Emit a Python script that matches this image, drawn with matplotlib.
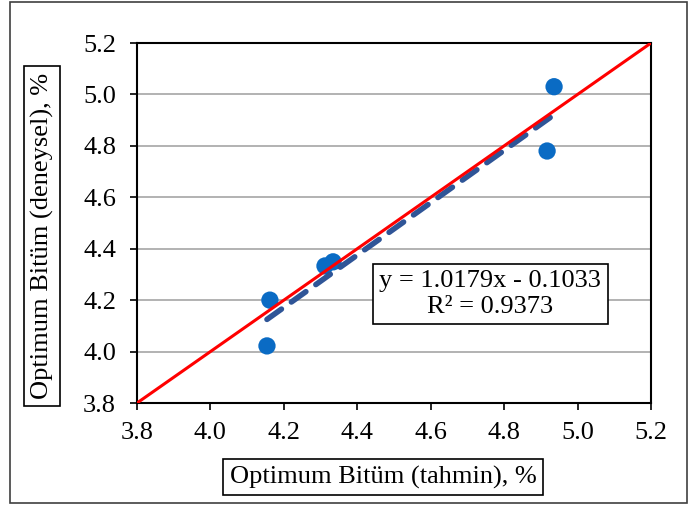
import matplotlib.pyplot as plt
import numpy as np
from matplotlib.patches import Rectangle

# okunan degerler
tahmin = [4.154, 4.162, 4.312, 4.334, 4.917, 4.936]
deneysel = [4.022, 4.200, 4.333, 4.349, 4.780, 5.030]
egim, kesim = 1.0179, -0.1033
ticks = [3.8, 4.0, 4.2, 4.4, 4.6, 4.8, 5.0, 5.2]

plt.rcParams['font.family'] = ['Liberation Serif', 'DejaVu Serif']
FS = 19

fig = plt.figure(figsize=(6.89, 5.07), dpi=100)
ax = fig.add_axes([137/689, 1-403/507, (651-137)/689, (403-43)/507])

# dis cerceve
fig.patches.append(Rectangle((10/689, 4/507), 677/689, 501/507, transform=fig.transFigure,
                             fill=False, edgecolor='#404040', lw=1.2))

for t in ticks[1:-1]:
    ax.axhline(t, color='#a6a6a6', lw=1.2, zorder=0)

ax.scatter(tahmin, deneysel, s=155, color='#0a6bc4', zorder=3, edgecolors='none')
xs = np.array([min(tahmin), max(tahmin)])
ax.plot(xs, egim*xs + kesim, ls=(0, (3.2, 2.2)), color='#2f5597', lw=4, zorder=4,
        solid_capstyle='round', dash_capstyle='round')
ax.plot([3.8, 5.2], [3.8, 5.2], color='#ff0000', lw=2.2, zorder=5)

ax.set_xlim(3.8, 5.2)
ax.set_ylim(3.8, 5.2)
ax.set_xticks(ticks)
ax.set_yticks(ticks)
ax.set_xticklabels([f'{t:.1f}' for t in ticks])
ax.set_yticklabels([f'{t:.1f}' for t in ticks])
ax.tick_params(direction='out', length=5, width=1.2, labelsize=FS)
ax.tick_params(axis='x', pad=9)
ax.tick_params(axis='y', pad=10)
for s in ax.spines.values():
    s.set_linewidth(1.5)

kutu = dict(boxstyle='square,pad=0.25', facecolor='white', edgecolor='black', lw=1.2)
fig.text(383/689, 1-477/507, 'Optimum Bitüm (tahmin), %', ha='center', va='center',
         fontsize=FS, bbox=kutu)
fig.text(42/689, 1-236/507, 'Optimum Bitüm (deneysel), %', ha='center', va='center',
         rotation=90, fontsize=FS, bbox=kutu)
ax.text(4.762, 4.224, 'y = 1.0179x - 0.1033\nR² = 0.9373', ha='center', va='center',
        fontsize=FS, linespacing=1.2, zorder=6,
        bbox=dict(boxstyle='square,pad=0.25', facecolor='white', edgecolor='black', lw=1.2))

fig.savefig('out.png', dpi=100)
